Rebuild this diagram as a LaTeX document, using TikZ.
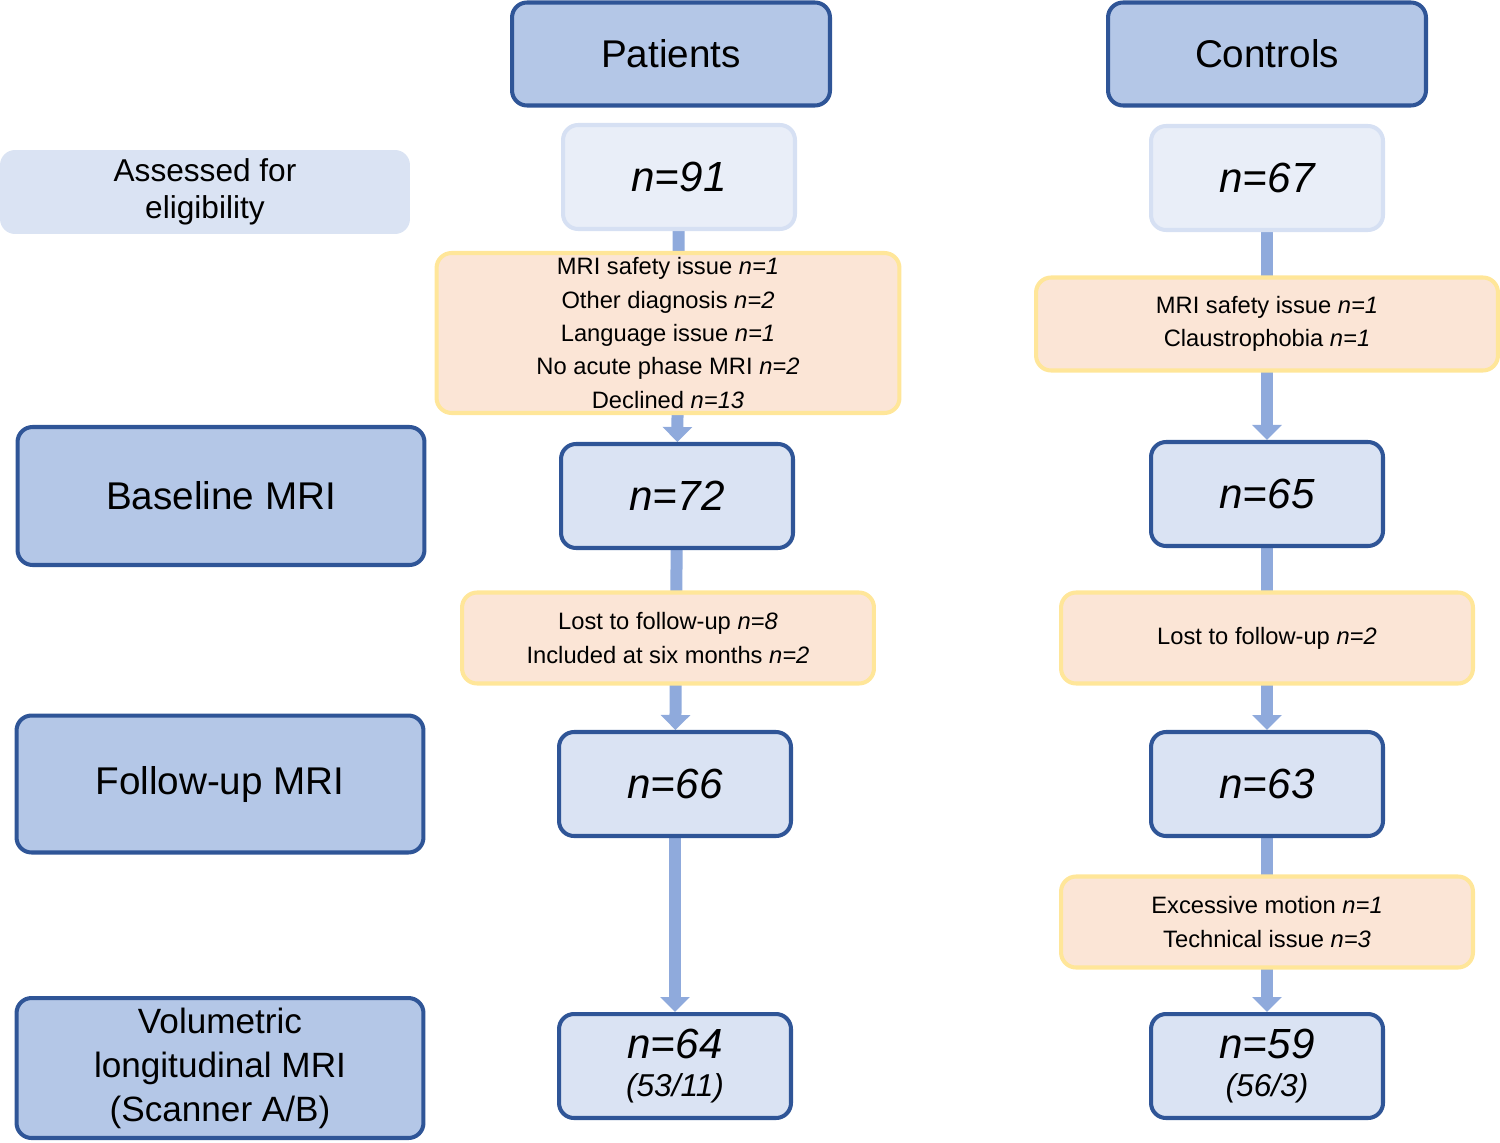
\documentclass[tikz,border=0pt]{standalone}
\usepackage{fontspec}
\setmainfont{Liberation Sans}
\usetikzlibrary{arrows.meta,backgrounds}
\definecolor{hdfill}{HTML}{B4C7E7}
\definecolor{hddraw}{HTML}{2F5597}
\definecolor{lightfill}{HTML}{DAE3F3}
\definecolor{palefill}{HTML}{E9EEF8}
\definecolor{paledraw}{HTML}{D6E0F3}
\definecolor{exfill}{HTML}{FBE5D6}
\definecolor{exdraw}{HTML}{FFE699}
\definecolor{arrowc}{HTML}{8FAADC}

\begin{document}
\begin{tikzpicture}[x=0.02cm,y=-0.02cm]
\tikzset{
  box/.style={rounded corners=0.3cm,line width=2.3pt,align=center,inner sep=0pt},
  head/.style={box,fill=hdfill,draw=hddraw,font=\fontsize{22}{26}\selectfont},
  count/.style={box,fill=lightfill,draw=hddraw,font=\fontsize{24}{24}\selectfont\itshape,minimum width=4.64cm,minimum height=2.08cm},
  excl/.style={box,fill=exfill,draw=exdraw,font=\fontsize{13.5}{19}\selectfont},
  flow/.style={draw=arrowc,line width=0.24cm,-{Triangle[width=0.58cm,length=0.3cm]}}
}
\useasboundingbox (0,0) rectangle (1500,1142);
% headers
\node[head,minimum width=6.36cm,minimum height=2.06cm] (pat) at (671,54) {Patients};
\node[head,minimum width=6.36cm,minimum height=2.06cm] (con) at (1267,54) {Controls};
% row labels
\node[box,fill=lightfill,draw=none,minimum width=8.2cm,minimum height=1.68cm,font=\fontsize{18}{21}\selectfont] (assess) at (205,192) {Assessed for\\eligibility};
\node[head,minimum width=8.14cm,minimum height=2.76cm] (base) at (221,496) {Baseline MRI};
\node[head,minimum width=8.14cm,minimum height=2.74cm] (fup) at (220,784) {Follow-up MRI};
\node[head,minimum width=8.14cm,minimum height=2.8cm,font=\fontsize{20}{25}\selectfont] (vol) at (220,1068) {Volumetric\\longitudinal MRI\\(Scanner A/B)};
% patients column
\node[count,fill=palefill,draw=paledraw] (p91) at (679,177) {n=91};
\node[count] (p72) at (677,496) {n=72};
\node[count] (p66) at (675,784) {n=66};
\node[count] (p64) at (675,1066) {n=64\\[-2pt]{\fontsize{18}{18}\selectfont(53/11)}};
\node[excl,minimum width=9.26cm,minimum height=3.2cm] (pex1) at (668,333) {MRI safety issue \textit{n=1}\\Other diagnosis \textit{n=2}\\Language issue \textit{n=1}\\No acute phase MRI \textit{n=2}\\Declined \textit{n=13}};
\node[excl,minimum width=8.24cm,minimum height=1.82cm] (pex2) at (668,638) {Lost to follow-up \textit{n=8}\\Included at six months \textit{n=2}};
% controls column
\node[count,fill=palefill,draw=paledraw] (c67) at (1267,178) {n=67};
\node[count] (c65) at (1267,494) {n=65};
\node[count] (c63) at (1267,784) {n=63};
\node[count] (c59) at (1267,1066) {n=59\\[-2pt]{\fontsize{18}{18}\selectfont(56/3)}};
\node[excl,minimum width=9.24cm,minimum height=1.86cm] (cex1) at (1267,324) {MRI safety issue \textit{n=1}\\Claustrophobia \textit{n=1}};
\node[excl,minimum width=8.24cm,minimum height=1.82cm] (cex2) at (1267,638) {Lost to follow-up \textit{n=2}};
\node[excl,minimum width=8.24cm,minimum height=1.82cm] (cex3) at (1267,922) {Excessive motion \textit{n=1}\\Technical issue \textit{n=3}};
% arrows behind
\begin{scope}[on background layer]
\draw[flow] (p91) -- (p72);
\draw[flow] (p72) -- (p66);
\draw[flow] (p66) -- (p64);
\draw[flow] (c67) -- (c65);
\draw[flow] (c65) -- (c63);
\draw[flow] (c63) -- (c59);
\end{scope}
\end{tikzpicture}
\end{document}
